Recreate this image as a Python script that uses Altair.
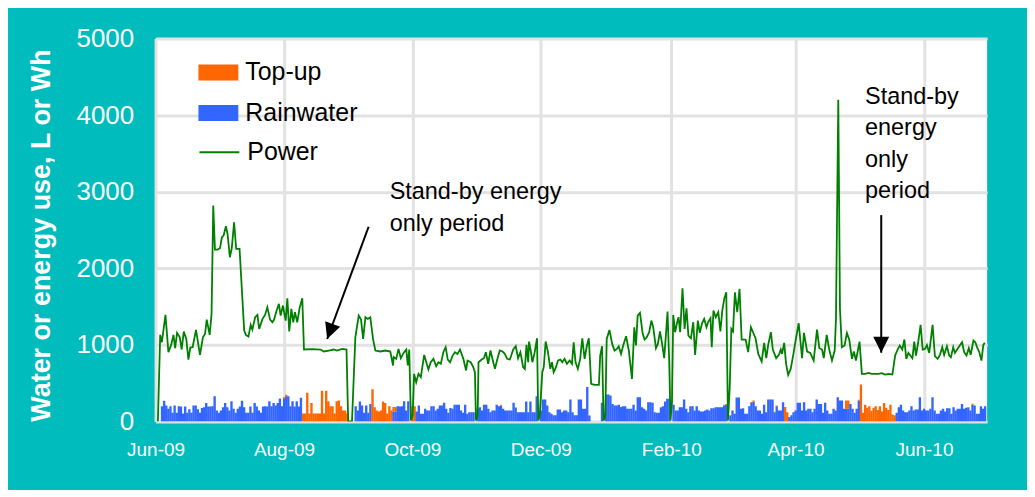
import altair as alt
import pandas as pd

START = pd.Timestamp("2009-06-01")
FONT = "Liberation Sans"

# ---- Power (Wh per day): day offset from 1 Jun 2009, value
power_day = [
    1.1, 2.2, 3.0, 4.7, 6.1, 7.4, 8.5, 9.3, 10.2, 11.5, 12.4, 13.4, 14.6, 15.6, 16.5, 17.6, 19.2, 21.1,
    22.5, 23.5, 24.3, 25.7, 26.6, 27.4, 28.2, 29.5, 30.6, 31.5, 32.3, 33.4, 34.2, 35.3, 36.2, 37.3,
    38.3, 39.9, 42.1, 42.9, 44.1, 45.2, 46.0, 47.3, 48.4, 49.2, 50.8, 52.0, 53.1, 54.4, 55.5,
    56.3, 57.5, 58.6, 59.4, 60.5, 61.8, 62.6, 63.5, 64.5, 65.4, 66.2, 67.3, 68.4, 69.7, 70.5, 74.4,
    78.4, 79.9, 82.3, 84.7, 86.2, 88.6, 90.7, 91.5, 93.3, 94.9, 96.5, 97.6, 98.6, 99.7, 100.8, 102.0,
    103.3, 104.4, 106.8, 109.1, 111.5, 112.8,
    113.1, 114.3, 115.4, 116.5, 117.8, 119.1, 119.8, 120.5, 121.3, 122.1, 122.8, 123.8, 124.9, 126.0,
    127.6, 128.5, 129.6, 130.7, 132.0, 133.3, 134.4, 135.5, 136.7, 137.8, 138.8, 139.9, 141.1, 142.2,
    143.4, 144.6, 146.2, 147.5, 148.2, 149.7, 150.9, 151.7, 152.2, 153.0, 153.4, 154.9, 156.0, 156.9,
    158.0, 159.1, 160.1, 161.2, 162.3, 163.5, 164.8, 165.9, 167.0, 168.3,
    169.9, 171.1, 172.2, 173.3, 174.6, 175.4, 176.2, 177.0, 177.4, 178.2, 179.0, 180.1, 181.2, 181.8,
    182.5, 183.7, 184.4, 185.3, 186.4, 187.5, 188.3, 189.1, 190.0, 191.2, 192.3, 193.2, 194.3, 195.4,
    196.7, 197.8, 198.6, 199.5, 200.6, 201.7, 202.7, 203.8, 204.9, 205.8, 206.9, 208.5, 210.6, 211.2,
    212.1, 212.8, 213.6, 214.3, 215.6, 216.9, 218.0, 219.1, 220.0, 221.1, 222.2, 223.5, 224.8, 226.3,
    227.4, 228.2, 229.0, 230.1, 231.4, 232.3, 233.3, 234.5, 235.5, 236.4, 237.7, 238.6, 239.6, 240.5,
    241.6, 242.4, 243.2, 244.0, 244.6, 245.3, 245.9, 246.8, 247.6, 248.4, 249.2, 250.3, 251.3, 252.2,
    253.1, 254.3, 255.4, 256.3, 257.6, 258.5, 259.5, 260.6, 261.7, 262.6, 263.6, 264.2, 265.0, 266.1,
    267.3, 268.3, 269.2, 270.2, 271.1, 271.9, 272.7, 273.5, 274.3, 275.2, 276.3, 277.4, 278.4, 280.3,
    281.5, 282.8,
    285.0, 286.3, 287.9, 289.1, 290.1, 291.0, 292.3, 293.2, 294.8, 296.1, 297.0, 297.6, 298.6, 299.5,
    300.5, 301.7, 303.0, 304.3, 305.5, 307.1, 308.0, 309.5, 311.0, 312.6, 314.2, 315.3, 316.6, 317.4,
    318.8, 320.0, 321.3, 322.6, 323.2, 324.3, 325.1, 326.0, 327.3, 328.4, 329.5, 330.8, 331.7, 332.7,
    333.6, 334.4, 335.5, 337.1, 338.6, 340.2,
    343.4, 345.0, 346.5, 348.4, 350.0, 351.3, 352.5, 353.5, 354.7, 355.7, 356.6, 357.6, 358.5, 359.5,
    360.4, 361.2, 362.3, 363.4, 364.4, 365.5, 366.4, 367.5, 369.1, 370.2, 371.5, 372.6, 373.7, 374.6,
    375.9, 377.0, 377.8, 378.9, 379.7, 380.9, 382.0, 383.1, 384.1, 385.2, 386.3, 387.2, 388.5, 389.4,
    390.4, 391.3, 392.3, 393.2, 393.9,
]
power_wh = [
    0, 1131, 1035, 1392, 905, 1000, 1131, 957, 1157, 1100, 940, 1174, 1079, 809, 965, 970, 1196, 870,
    1100, 1144, 1331, 1131, 1405, 2819, 2245, 2245, 2262, 2406, 2427, 2549, 2449, 2145, 2262, 2601,
    2253, 2253, 1188, 1131, 1109, 1262, 1200, 1362, 1392, 1209, 1340, 1392, 1492, 1331, 1296,
    1331, 1449, 1536, 1383, 1514, 1318, 1610, 1175, 1470, 1296, 1427, 1296, 1479, 1610, 940, 945,
    940, 914, 927, 940, 927, 948, 940, 0, 0, 1100, 1383, 1331, 1079, 1362, 1340, 1362,
    1079, 927, 914, 927, 914, 731,
    840, 818, 948, 827, 896, 940, 731, 940, 13, 78, 622, 513, 622, 578,
    870, 783, 679, 774, 818, 722, 774, 753, 905, 970, 809, 774, 861, 905,
    883, 940, 818, 666, 796, 774, 709, 644, 13, 78, 774, 809, 827, 905,
    753, 927, 809, 687, 809, 927, 914, 883, 818, 809,
    940, 983, 827, 905, 709, 687, 1000, 774, 1044, 927, 774, 905, 1087, 13,
    78, 644, 709, 1044, 905, 687, 774, 644, 696, 796, 809, 774, 818, 753,
    796, 753, 1035, 774, 687, 818, 1087, 818, 992, 1087, 491, 478, 478, 861,
    983, 13, 57, 1079, 1196, 1013, 927, 948, 983, 883, 1000, 1114, 927, 557,
    1231, 992, 1383, 1418, 1144, 1070, 1100, 1166, 1318, 1231, 957, 1013, 1175, 1035,
    827, 1122, 1436, 774, 13, 252, 1392, 1166, 1275, 1362, 1166, 1740, 1209, 1479,
    1122, 1087, 1296, 870, 1318, 1157, 1275, 1340, 1231, 1305, 1349, 970, 1449, 1362,
    1427, 1175, 1449, 1610, 1688, 13, 426, 1209, 1175, 1688, 1427, 1731, 1070, 1070,
    905, 1231,
    1087, 883, 783, 1027, 827, 1000, 1166, 940, 827, 870, 940, 883, 1027, 753,
    609, 687, 883, 1100, 1283, 827, 1157, 914, 896, 796, 1200, 957, 940, 827,
    1131, 940, 796, 927, 1340, 4200, 1470, 970, 992, 1157, 1070, 818, 914, 796,
    927, 1044, 622, 622, 635, 622,
    622, 631, 613, 622, 613, 861, 940, 992, 940, 1070, 818, 896, 861, 827,
    1044, 861, 1044, 1262, 940, 948, 1000, 896, 1262, 853, 818, 870, 970, 870,
    983, 861, 840, 970, 896, 948, 992, 1035, 905, 861, 957, 870, 1057, 1035,
    957, 905, 796, 1000, 1027,
]

# ---- Rainwater use (L per day), one value per day from 1 Jun 2009 (day 0) to 30 Jun 2010 (day 394)
rain_l = [
    0, 0, 0,
    200, 270, 210, 165, 200, 113, 210, 113, 200, 195, 105, 195,
    113, 160, 113, 210, 210, 160, 113, 175, 185, 240, 195, 195, 200, 330, 145, 113, 145, 185, 240, 185,
    145, 265, 165, 113, 165, 195, 270, 185, 113, 113, 195, 113, 240, 195, 145, 113, 195, 200, 195, 265,
    200, 240, 210, 240, 300, 200, 295, 330, 330, 200, 265, 195, 265, 195, 310,
    0, 0, 0, 0, 0, 0, 0, 0, 0, 0, 0, 0, 0, 0, 0, 0, 0, 0, 0, 0, 0, 0, 0, 0, 0,
    200, 145, 260, 210, 113, 210, 113, 230,
    0, 0, 0, 0, 0, 0, 0, 0, 0, 0,
    130, 130,
    200, 195, 200, 265, 145, 265,
    0, 0, 0,
    130, 210, 100, 100, 165, 145, 145, 200, 200, 145, 165, 210, 210, 245, 165, 113, 175, 165, 218, 218,
    218, 145, 113, 218, 100, 120, 120, 120, 0, 165, 185, 145, 218, 218, 165, 120, 145, 145, 218, 200,
    210, 165, 145, 145, 145, 145,
    245, 183, 120, 120, 120, 120, 260, 120, 260, 120, 120, 330, 0, 145, 287, 287, 210, 120, 100, 80,
    80, 157, 157, 120, 145, 145, 120, 287, 120, 80, 80, 287, 287, 165, 165, 450, 78, 0, 0, 0,
    0, 0, 245, 0, 352, 352, 340, 230, 210, 210, 218, 188, 200, 200, 165, 165, 165,
    218, 145, 318, 318, 187, 165, 145, 252, 252, 244, 120, 113, 113, 180, 200, 260, 296, 296, 0, 218,
    145, 145, 187, 187, 287, 165, 120, 200, 200, 145, 200, 145, 130, 130, 145, 157, 145, 174, 174, 187,
    187, 187, 187, 210, 218, 0, 78, 145, 100, 313, 313, 165, 174, 100, 100, 200, 240,
    260, 200, 145, 145, 100, 218, 120, 287, 287, 287, 120, 200, 145, 145, 252, 0, 0, 60, 80, 120,
    145, 245, 245, 145, 252, 145, 165, 165, 120, 165, 287, 230, 230, 113, 245, 145, 100, 100, 165, 145,
    318, 275, 275, 165, 165, 165, 230, 165, 113, 165, 275, 0,
    0, 0, 0, 0, 0, 0, 0, 0, 0, 0, 0, 0, 0, 0, 0, 0,
    113, 187, 218, 145, 120, 120, 145, 200, 145, 157, 157, 318, 145, 165, 145, 145, 165, 318, 145, 100,
    100, 145, 165, 130, 174, 174, 100, 187, 145, 165, 165, 230, 165, 178, 178, 145, 218, 210, 100, 100,
    200, 165, 200,
]

# ---- Top-up (mains water) use (L per day): day offset, litres
topup_day = [
    61, 62,
    70, 71, 72, 73, 74, 75, 76, 77, 78, 79, 80, 81, 82, 83, 84, 85, 86, 87, 88, 89, 90, 91,
    103, 104, 105, 106, 107, 108, 109, 110, 111, 112, 113, 114, 122, 123,
    164, 240, 270, 271, 273, 283, 284, 294, 295, 299, 300, 328, 329, 334, 335,
    336, 337, 338, 339, 340, 341, 342, 343, 344, 345, 346, 347, 348, 349, 350, 351,
    386, 388,
]
topup_l = [
    20, 20,
    105, 105, 375, 105, 240, 105, 105, 105, 105, 400, 105, 400, 265, 200, 200, 105, 265, 275, 200, 145, 145, 105,
    420, 185, 145, 130, 145, 260, 240, 105, 200, 145, 60, 60, 200, 200,
    10, 10, 10, 10, 8, 13, 13, 8, 10, 190, 120, 110, 110, 10, 483,
    113, 220, 180, 200, 140, 180, 200, 150, 200, 130, 240, 180, 150, 220, 90, 80,
    10, 13,
]

series_names = ["Top-up", "Rainwater", "Power"]
series_colors = ["#FF6600", "#3366FF", "#008000"]

month_ticks = [(2009, 6), (2009, 8), (2009, 10), (2009, 12), (2010, 2), (2010, 4), (2010, 6)]

annot_text = ["Stand-by energy\nonly period", "Stand-by\nenergy\nonly\nperiod"]
annot_day = [111.2, 337.0]
annot_val = [3147, 4397]

arrow_tail_day = [101.2, 344.7]
arrow_tail_val = [2543, 2695]
arrow_tip_day = [81.5, 344.7]
arrow_tip_val = [1077, 898]
arrow_angle = [200.3, 180]


def ts(d):
    return (START + pd.Timedelta(days=float(d))).strftime("%Y-%m-%dT%H:%M:%S")


top_full = [0] * len(rain_l)
for d, v in zip(topup_day, topup_l):
    top_full[d] = v

# each daily column spans its day; a hair of overlap avoids anti-aliasing seams
rows = []
for d, r in enumerate(rain_l):
    t = top_full[d]
    if r > 0:
        rows.append({"x0": ts(d - 0.5), "x1": ts(d + 0.62), "y0": 0, "y1": r, "series": "Rainwater"})
    if t > 0:
        rows.append({"x0": ts(d - 0.5), "x1": ts(d + 0.62), "y0": r, "y1": r + t, "series": "Top-up"})
bar_df = pd.DataFrame(rows)

power_df = pd.DataFrame({"date": [ts(d) for d in power_day], "wh": power_wh, "series": "Power"})
annot_df = pd.DataFrame({"date": [ts(d) for d in annot_day], "val": annot_val, "label": annot_text})
arrow_df = pd.DataFrame({
    "d0": [ts(d) for d in arrow_tail_day], "v0": arrow_tail_val,
    "d1": [ts(d) for d in arrow_tip_day], "v1": arrow_tip_val, "ang": arrow_angle,
})

x_scale = alt.Scale(domain=[alt.DateTime(year=2009, month=6, date=1),
                            alt.DateTime(year=2010, month=7, date=1)])
y_scale = alt.Scale(domain=[0, 5000], nice=False)

grid_color = "#E2E2E2"
x_axis = alt.Axis(
    values=[alt.DateTime(year=y, month=m, date=1) for y, m in month_ticks],
    format="%b-%y", title=None, grid=True, gridColor=grid_color, gridWidth=3, gridOpacity=1,
    ticks=False, tickSize=0, domain=False, labelColor="white", labelFont=FONT,
    labelFontSize=19, labelPadding=19, labelFlush=False,
)
y_axis = alt.Axis(
    values=[0, 1000, 2000, 3000, 4000, 5000], format="d", title="Water or energy use, L or Wh",
    grid=True, gridColor=grid_color, gridWidth=3, gridOpacity=1, ticks=False, tickSize=0, domain=False,
    labelColor="white", labelFont=FONT, labelFontSize=26, labelPadding=22,
    titleColor="white", titleFont=FONT, titleFontSize=27, titleFontWeight="bold",
    titleX=-106, titleY=197, titleAngle=270, titleAlign="center", titleBaseline="alphabetic",
)

bars = alt.Chart(bar_df).mark_rect(clip=True, strokeWidth=0).encode(
    x=alt.X("x0:T", scale=x_scale, axis=x_axis),
    x2="x1:T",
    y=alt.Y("y0:Q", scale=y_scale, axis=y_axis),
    y2="y1:Q",
    fill=alt.Fill(
        "series:N",
        scale=alt.Scale(domain=series_names[:2], range=series_colors[:2]),
        legend=alt.Legend(
            title=None, orient="none", legendX=43, legendY=14, padding=0, rowPadding=7.5,
            symbolType="M-1,-0.4H1V0.4H-1Z", symbolSize=1600, symbolStrokeWidth=0,
            labelFont=FONT, labelFontSize=25, labelOffset=7, labelColor="black",
        ),
    ),
)

line = alt.Chart(power_df).mark_line(clip=True, strokeWidth=1.8).encode(
    x=alt.X("date:T", scale=x_scale, axis=x_axis),
    y=alt.Y("wh:Q", scale=y_scale, axis=y_axis),
    stroke=alt.Stroke(
        "series:N",
        scale=alt.Scale(domain=series_names[2:], range=series_colors[2:]),
        legend=alt.Legend(
            title=None, orient="none", legendX=43, legendY=93, padding=0, rowPadding=0,
            symbolType="M-1,0H1", symbolSize=1600, symbolStrokeWidth=2,
            labelFont=FONT, labelFontSize=25, labelOffset=7, labelColor="black",
        ),
    ),
)

texts = alt.Chart(annot_df).mark_text(
    align="left", baseline="top", font=FONT, fontSize=23.5, lineHeight=31.5,
    lineBreak="\n", color="black",
).encode(
    x=alt.X("date:T", scale=x_scale, axis=x_axis),
    y=alt.Y("val:Q", scale=y_scale, axis=y_axis),
    text="label:N",
)

shafts = alt.Chart(arrow_df).mark_rule(color="black", strokeWidth=2).encode(
    x=alt.X("d0:T", scale=x_scale, axis=x_axis),
    y=alt.Y("v0:Q", scale=y_scale, axis=y_axis),
    x2="d1:T",
    y2="v1:Q",
)

heads = alt.Chart(arrow_df).mark_point(
    shape="M0,0L-0.5,1L0.5,1Z", filled=True, size=1024, color="black", opacity=1,
).encode(
    x=alt.X("d1:T", scale=x_scale, axis=x_axis),
    y=alt.Y("v1:Q", scale=y_scale, axis=y_axis),
    angle=alt.Angle("ang:Q", scale=None),
)

chart = alt.layer(bars, line, shafts, heads, texts).properties(
    width=834, height=384,
    background="#00BCBC",
    padding={"left": 148, "top": 30, "right": 40, "bottom": 68},
    autosize=alt.AutoSizeParams(type="none"),
).configure_view(fill="white", stroke=None)

chart.save("out.html", embed_options={"renderer": "svg", "actions": False})
